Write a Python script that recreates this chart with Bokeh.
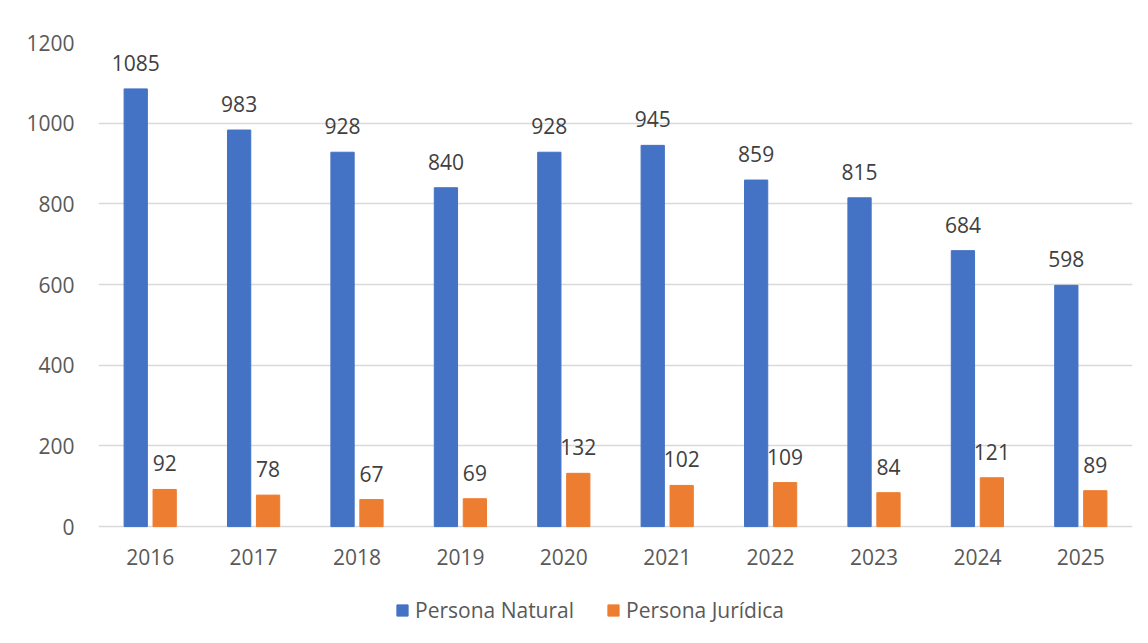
from bokeh.plotting import figure
from bokeh.models import (ColumnDataSource, FactorRange, Range1d, Legend, LegendItem,
                          FixedTicker, BoxAnnotation)
from bokeh.transform import dodge
from bokeh.core.properties import value
from bokeh.embed import file_html
from bokeh.resources import INLINE

years = ["2016", "2017", "2018", "2019", "2020", "2021", "2022", "2023", "2024", "2025"]
natural = [1085, 983, 928, 840, 928, 945, 859, 815, 684, 598]
juridica = [92, 78, 67, 69, 132, 102, 109, 84, 121, 89]
y_ticks = [0, 200, 400, 600, 800, 1000, 1200]

BLUE = "#4472C4"
ORANGE = "#ED7D31"
FONT = "Open Sans"
FS = "21px"

src = ColumnDataSource(dict(
    years=years, natural=natural, juridica=juridica, zero=[0] * len(years),
    nat_lbl=[str(v) for v in natural], jur_lbl=[str(v) for v in juridica],
))

# frame extends below the zero line so the legend can sit inside it
p = figure(
    x_range=FactorRange(*years, range_padding=0), y_range=Range1d(-270, 1200),
    width=1140, height=635, output_backend="svg", toolbar_location=None,
    min_border_left=98, min_border_right=8, min_border_top=42, min_border_bottom=0,
)
p.outline_line_color = None
p.background_fill_color = "white"
p.border_fill_color = "white"

# chart-area border (light grey frame of the original chart object)
p.add_layout(BoxAnnotation(left=9, right=1300, top=12, bottom=1000,
                           left_units="canvas", right_units="canvas",
                           top_units="canvas", bottom_units="canvas",
                           fill_alpha=0, line_color="#d9d9d9", line_width=1.5,
                           level="overlay", propagate_hover=False, editable=False))

r1 = p.vbar(x=dodge("years", -0.14, range=p.x_range), top="natural", width=0.225,
            source=src, fill_color=BLUE, line_color=BLUE)
r2 = p.vbar(x=dodge("years", 0.14, range=p.x_range), top="juridica", width=0.225,
            source=src, fill_color=ORANGE, line_color=ORANGE)

p.text(x=dodge("years", -0.14, range=p.x_range), y="natural", text="nat_lbl", source=src,
       text_align="center", text_baseline="alphabetic", y_offset=-26,
       text_font=value(FONT), text_font_size=FS, text_color="#404040")
p.text(x=dodge("years", 0.14, range=p.x_range), y="juridica", text="jur_lbl", source=src,
       text_align="center", text_baseline="alphabetic", y_offset=-26,
       text_font=value(FONT), text_font_size=FS, text_color="#404040")
# category labels under the zero line
p.text(x="years", y="zero", text="years", source=src,
       text_align="center", text_baseline="alphabetic", y_offset=30,
       text_font=value(FONT), text_font_size=FS, text_color="#595959")

p.yaxis.ticker = FixedTicker(ticks=y_ticks)
p.ygrid.ticker = FixedTicker(ticks=y_ticks)
p.ygrid.grid_line_color = "#d9d9d9"
p.ygrid.grid_line_width = 1.5
p.xgrid.grid_line_color = None
p.xaxis.visible = False

p.yaxis.major_tick_line_color = None
p.yaxis.minor_tick_line_color = None
p.yaxis.major_label_text_font = FONT
p.yaxis.major_label_text_font_size = FS
p.yaxis.major_label_text_color = "#595959"
p.yaxis.axis_line_color = None
p.yaxis.major_label_standoff = 18

legend = Legend(items=[LegendItem(label="Persona Natural", renderers=[r1]),
                       LegendItem(label="Persona Jurídica", renderers=[r2])],
                orientation="horizontal", location=(297, 11),
                glyph_width=14, glyph_height=14, label_standoff=6, spacing=32,
                padding=0, margin=0, border_line_color=None, background_fill_alpha=0,
                label_text_font=FONT, label_text_font_size=FS, label_text_color="#595959")
p.add_layout(legend, "center")

open("out.html", "w").write(file_html(p, INLINE))
